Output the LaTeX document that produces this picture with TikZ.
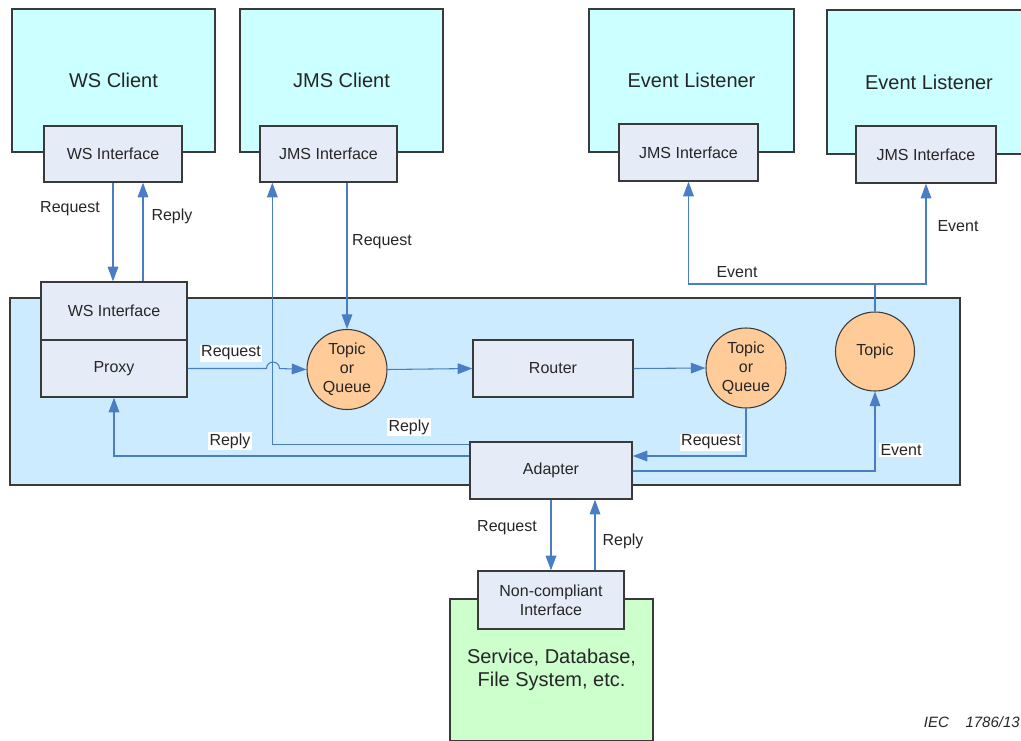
\documentclass[tikz,border=0pt]{standalone}
\usepackage{fontspec}
\setmainfont{Liberation Sans}
\usetikzlibrary{arrows.meta,calc}
\definecolor{clientfill}{HTML}{CCFFFF}
\definecolor{contfill}{HTML}{CCEBFF}
\definecolor{iffill}{HTML}{E6ECF7}
\definecolor{circfill}{HTML}{FFCC99}
\definecolor{svcfill}{HTML}{CCFFCC}
\definecolor{arrcol}{HTML}{4A7EC4}
\definecolor{edgecol}{HTML}{3A3A3A}
\definecolor{txtcol}{HTML}{262626}
\tikzset{
  px/.style 2 args={minimum width=#1*0.75pt, minimum height=#2*0.75pt},
  bigbox/.style={draw=edgecol, line width=1pt, inner sep=0pt, text=txtcol, font=\fontsize{15}{18}\selectfont},
  client/.style={bigbox, fill=clientfill},
  ifbox/.style={draw=edgecol, line width=1pt, fill=iffill, inner sep=0pt, text=txtcol, align=center, font=\fontsize{12}{14.25}\selectfont},
  queue/.style={circle, draw=edgecol, line width=0.8pt, fill=circfill, inner sep=0pt, minimum size=60pt, align=center, text=txtcol, font=\fontsize{12}{14.25}\selectfont},
  arr/.style={draw=arrcol, line width=0.8pt, -{Triangle[length=11pt,width=8pt]}},
  line/.style={draw=arrcol, line width=0.8pt},
  lbl/.style={text=txtcol, inner sep=1pt, font=\fontsize{12}{14}\selectfont},
  wlbl/.style={lbl, fill=white},
}
\begin{document}
\begin{tikzpicture}[x=0.75pt, y=-0.75pt]
\useasboundingbox (0,0) rectangle (1021,740);
% container
\node[draw=edgecol, line width=1pt, fill=contfill, px={950}{187}, inner sep=0pt] (cont) at (485,391.5) {};
% clients and listeners
\node[client, px={203}{143}] (wsc) at (113.5,80.5) {WS Client};
\node[client, px={203}{143}] (jmsc) at (341.5,80.5) {JMS Client};
\node[client, px={205}{143}] (el1) at (691.5,80.5) {Event Listener};
\node[client, px={204}{144}] (el2) at (929,82) {Event Listener};
\node[ifbox, px={138}{56}] (wsit) at (113,154) {WS Interface};
\node[ifbox, px={137}{56}] (jmsit) at (328.5,154) {JMS Interface};
\node[ifbox, px={139}{57}] (el1i) at (688.5,152.5) {JMS Interface};
\node[ifbox, px={140}{57}] (el2i) at (926,154.5) {JMS Interface};
% inside container
\node[ifbox, px={146}{58}] (wsic) at (114,311) {WS Interface};
\node[ifbox, px={146}{57}] (proxy) at (114,368.5) {Proxy};
\node[queue] (tq1) at (347,369.5) {Topic\\or\\Queue};
\node[ifbox, px={160}{57}] (router) at (553,368.5) {Router};
\node[queue] (tq2) at (746,368) {Topic\\or\\Queue};
\node[queue, minimum size=59.25pt] (topic) at (875,351.5) {Topic};
\node[ifbox, px={162}{57}] (adapter) at (551,470.5) {Adapter};
% service
\node[bigbox, fill=svcfill, px={203}{142}, align=center, font=\fontsize{15}{17.25}\selectfont] (svc) at (551.5,670) {Service, Database,\\File System, etc.};
\node[ifbox, px={146}{58}, font=\fontsize{12}{14.25}\selectfont] (nci) at (551,600) {Non-compliant\\Interface};
% WS client <-> proxy
\draw[arr] (wsit.south) -- (wsit.south |- wsic.north);
\coordinate (r1) at ($(wsic.north)+(29,0)$);
\draw[arr] (r1) -- (r1 |- wsit.south);
\node[lbl] (l1) at (70,209) {Request};
\node[lbl] (l2) at (172,216) {Reply};
% JMS client request
\draw[arr] (tq1.north |- jmsit.south) -- (tq1.north);
\node[lbl] (l3) at (382,242) {Request};
% adapter reply to JMS client
\coordinate (a1) at ($(adapter.north west)+(0,3)$);
\coordinate (j1) at ($(jmsit.south west)+(13,0)$);
\draw[arr] (a1) -| (j1);
\node[wlbl] (l4) at (409,427) {Reply};
% adapter reply to proxy
\coordinate (a2) at ($(adapter.west)+(0,-14.5)$);
\draw[arr] (a2) -| (proxy.south);
\node[wlbl] (l5) at (230,441) {Reply};
% proxy request with hop
\draw[arr] (proxy.east) -- (266.5,368.5) arc[start angle=180, end angle=0, radius=4.875pt] -- (tq1.west);
\node[wlbl] (l6) at (231,353) {Request};
% queue chain
\draw[arr] (tq1.east) -- (router.west);
\draw[arr] (router.east) -- (tq2.west);
\coordinate (a3) at ($(adapter.east)+(0,-14.5)$);
\draw[arr] (tq2.south) |- (a3);
\node[wlbl] (l7) at (711,442) {Request};
% events
\draw[arr] ($(adapter.east)+(0,0.5)$) -| (topic.south);
\node[wlbl] (l8) at (901,450) {Event};
\coordinate (tj) at (875,284);
\draw[line] (topic.north) -- (tj);
\draw[arr] (tj) -| (el1i.south);
\draw[arr] (tj) -| (el2i.south);
\node[lbl] (l9) at (737,272) {Event};
\node[lbl] (l10) at (958,226) {Event};
% adapter <-> service
\draw[arr] (adapter.south) -- (adapter.south |- nci.north);
\coordinate (n1) at ($(nci.north)+(44,0)$);
\draw[arr] (n1) -- (n1 |- adapter.south);
\node[lbl] (l11) at (507,528) {Request};
\node[lbl] (l12) at (623,541) {Reply};
% footer
\node[anchor=east, inner sep=0pt, text=txtcol, font=\fontsize{11.25}{13}\selectfont\itshape] (iec) at (1020,722) {IEC\hspace{12.5pt}1786/13};
\end{tikzpicture}
\end{document}
